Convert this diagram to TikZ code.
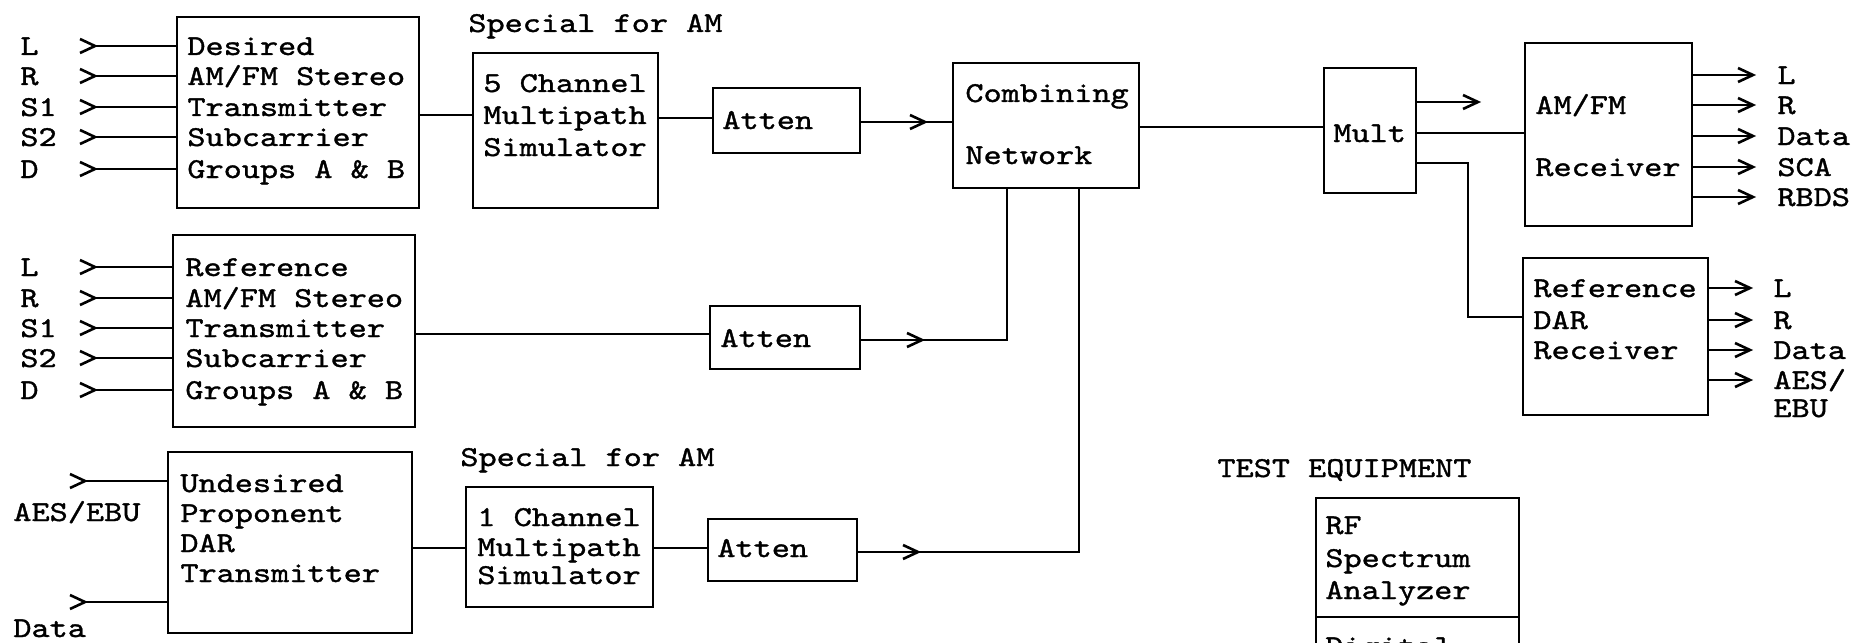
\documentclass[tikz,border=0pt]{standalone}
\usepackage{fontspec}
\newfontfamily\cour{lmmono10-regular.otf}[FakeStretch=1.2,FakeBold=1.2]
\usetikzlibrary{fit}
\begin{document}
\begin{tikzpicture}[x=0.5pt,y=-0.5pt,
  box/.style={draw, line width=1.3pt, inner sep=0pt, rectangle},
  conn/.style={line width=1.3pt},
  txt/.style={anchor=base west, inner sep=0pt, font=\cour\fontsize{14.4pt}{15pt}\selectfont},
  chev/.pic={\draw[line width=1.3pt, line join=miter] (-15,-7) -- (0,0) -- (-15,7);}]
\fill[white] (0,0) rectangle (1851,642);
\useasboundingbox (0,0) rectangle (1851,642);

% ---------- Desired transmitter ----------
\node[box, fit={(177,17) (419,208)}] (des) {};
\node[txt] (des1) at (187,55) {Desired};
\node[txt] (des2) at (187,85) {AM/FM Stereo};
\node[txt] (des3) at (187,116) {Transmitter};
\node[txt] (des4) at (187,146) {Subcarrier};
\node[txt] (des5) at (187,178) {Groups A \& B};
\node[txt] (dl1) at (20,55) {L};
\node[txt] (dl2) at (20,85) {R};
\node[txt] (dl3) at (20,116) {S1};
\node[txt] (dl4) at (20,146) {S2};
\node[txt] (dl5) at (20,178) {D};
\foreach \n/\y in {1/46,2/76,3/107,4/137,5/169}{
  \coordinate (di\n) at (95,\y);
  \draw[conn] (di\n) -- (des.west |- di\n);
  \pic at (di\n) {chev};
}

% ---------- Reference transmitter ----------
\node[box, fit={(173,235) (415,427)}] (ref) {};
\node[txt] (ref1) at (185,276) {Reference};
\node[txt] (ref2) at (185,307) {AM/FM Stereo};
\node[txt] (ref3) at (185,337) {Transmitter};
\node[txt] (ref4) at (185,367) {Subcarrier};
\node[txt] (ref5) at (185,399) {Groups A \& B};
\node[txt] (rl1) at (20,276) {L};
\node[txt] (rl2) at (20,307) {R};
\node[txt] (rl3) at (20,337) {S1};
\node[txt] (rl4) at (20,367) {S2};
\node[txt] (rl5) at (20,399) {D};
\foreach \n/\y in {1/267,2/298,3/328,4/358,5/390}{
  \coordinate (ri\n) at (95,\y);
  \draw[conn] (ri\n) -- (ref.west |- ri\n);
  \pic at (ri\n) {chev};
}

% ---------- Undesired transmitter ----------
\node[box, fit={(168,452) (412,633)}] (und) {};
\node[txt] (und1) at (180,492) {Undesired};
\node[txt] (und2) at (180,522) {Proponent};
\node[txt] (und3) at (180,552) {DAR};
\node[txt] (und4) at (180,582) {Transmitter};
\node[txt] (ul1) at (13,521) {AES/EBU};
\node[txt] (ul2) at (13,637) {Data};
\coordinate (ui1) at (85,481);
\coordinate (ui2) at (85,602);
\draw[conn] (ui1) -- (und.west |- ui1); \pic at (ui1) {chev};
\draw[conn] (ui2) -- (und.west |- ui2); \pic at (ui2) {chev};

% ---------- Multipath simulators ----------
\node[txt] (sp1) at (468,32) {Special for AM};
\node[box, fit={(473,53) (658,208)}] (ch5) {};
\node[txt] (ch5a) at (483,92) {5 Channel};
\node[txt] (ch5b) at (483,124) {Multipath};
\node[txt] (ch5c) at (483,156) {Simulator};

\node[txt] (sp2) at (460,466) {Special for AM};
\node[box, fit={(466,487) (653,607)}] (ch1) {};
\node[txt] (ch1a) at (477,526) {1 Channel};
\node[txt] (ch1b) at (477,556) {Multipath};
\node[txt] (ch1c) at (477,584) {Simulator};

% ---------- Attenuators ----------
\node[box, fit={(713,88) (860,153)}] (at1) {};
\node[txt] (at1t) at (722,129) {Atten};
\node[box, fit={(710,306) (860,369)}] (at2) {};
\node[txt] (at2t) at (720,347) {Atten};
\node[box, fit={(708,519) (857,581)}] (at3) {};
\node[txt] (at3t) at (717,557) {Atten};

% ---------- Combining network & Mult ----------
\node[box, fit={(953,63) (1139,188)}] (comb) {};
\node[txt] (comb1) at (965,102) {Combining};
\node[txt] (comb2) at (965,164) {Network};
\node[box, fit={(1324,68) (1416,193)}] (mult) {};
\node[txt] (mult1) at (1333,142) {Mult};

% ---------- Receivers ----------
\node[box, fit={(1525,43) (1692,226)}] (amfm) {};
\node[txt] (amfm1) at (1535,114) {AM/FM};
\node[txt] (amfm2) at (1535,176) {Receiver};
\node[box, fit={(1523,258) (1708,415)}] (rdar) {};
\node[txt] (rdar1) at (1533,297) {Reference};
\node[txt] (rdar2) at (1533,329) {DAR};
\node[txt] (rdar3) at (1533,359) {Receiver};

\foreach \n/\y in {1/75,2/105,3/136,4/167,5/197}{
  \coordinate (ao\n) at (1753,\y);
  \draw[conn] (amfm.east |- ao\n) -- (ao\n);
  \pic at (ao\n) {chev};
}
\node[txt] (aol1) at (1777,84) {L};
\node[txt] (aol2) at (1777,114) {R};
\node[txt] (aol3) at (1777,145) {Data};
\node[txt] (aol4) at (1777,176) {SCA};
\node[txt] (aol5) at (1777,206) {RBDS};

\foreach \n/\y in {1/288,2/320,3/350,4/380}{
  \coordinate (ro\n) at (1750,\y);
  \draw[conn] (rdar.east |- ro\n) -- (ro\n);
  \pic at (ro\n) {chev};
}
\node[txt] (rol1) at (1773,297) {L};
\node[txt] (rol2) at (1773,329) {R};
\node[txt] (rol3) at (1773,359) {Data};
\node[txt] (rol4) at (1773,389) {AES/};
\node[txt] (rol5) at (1773,417) {EBU};

% ---------- Test equipment ----------
\node[txt] (teq) at (1217,477) {TEST EQUIPMENT};
\begin{scope}
  \clip (0,0) rectangle (1851,642);
  \node[box, fit={(1316,498) (1519,617)}] (rfsa) {};
  \node[box, fit={(1316,617) (1519,720)}] (dig) {};
  \node[txt] (rfsa1) at (1325,534) {RF};
  \node[txt] (rfsa2) at (1325,567) {Spectrum};
  \node[txt] (rfsa3) at (1325,599) {Analyzer};
  \node[txt] (dig1) at (1325,655) {Digital};
\end{scope}

% ---------- Connectors ----------
\draw[conn] (des.east |- 0,115) -- (ch5.west |- 0,115);
\draw[conn] (ch5.east |- 0,118) -- (at1.west |- 0,118);
\coordinate (a1c) at (925,122);
\draw[conn] (at1.east |- a1c) -- (comb.west |- a1c);
\pic at (a1c) {chev};

\draw[conn] (ref.east |- 0,334) -- (at2.west |- 0,334);
\coordinate (a2c) at (922,340);
\coordinate (a2k) at (1007,340);
\draw[conn] (at2.east |- a2c) -- (a2k) -- (comb.south -| a2k);
\pic at (a2c) {chev};

\draw[conn] (und.east |- 0,548) -- (ch1.west |- 0,548);
\draw[conn] (ch1.east |- 0,548) -- (at3.west |- 0,548);
\coordinate (a3c) at (918,552);
\coordinate (a3k) at (1079,552);
\draw[conn] (at3.east |- a3c) -- (a3k) -- (comb.south -| a3k);
\pic at (a3c) {chev};

\draw[conn] (comb.east |- 0,127) -- (mult.west |- 0,127);
\coordinate (mo1) at (1478,102);
\draw[conn] (mult.east |- mo1) -- (mo1);
\pic at (mo1) {chev};
\draw[conn] (mult.east |- 0,133) -- (amfm.west |- 0,133);
\coordinate (mk) at (1468,163);
\draw[conn] (mult.east |- mk) -- (mk) |- (rdar.west |- 0,317);
\end{tikzpicture}
\end{document}
